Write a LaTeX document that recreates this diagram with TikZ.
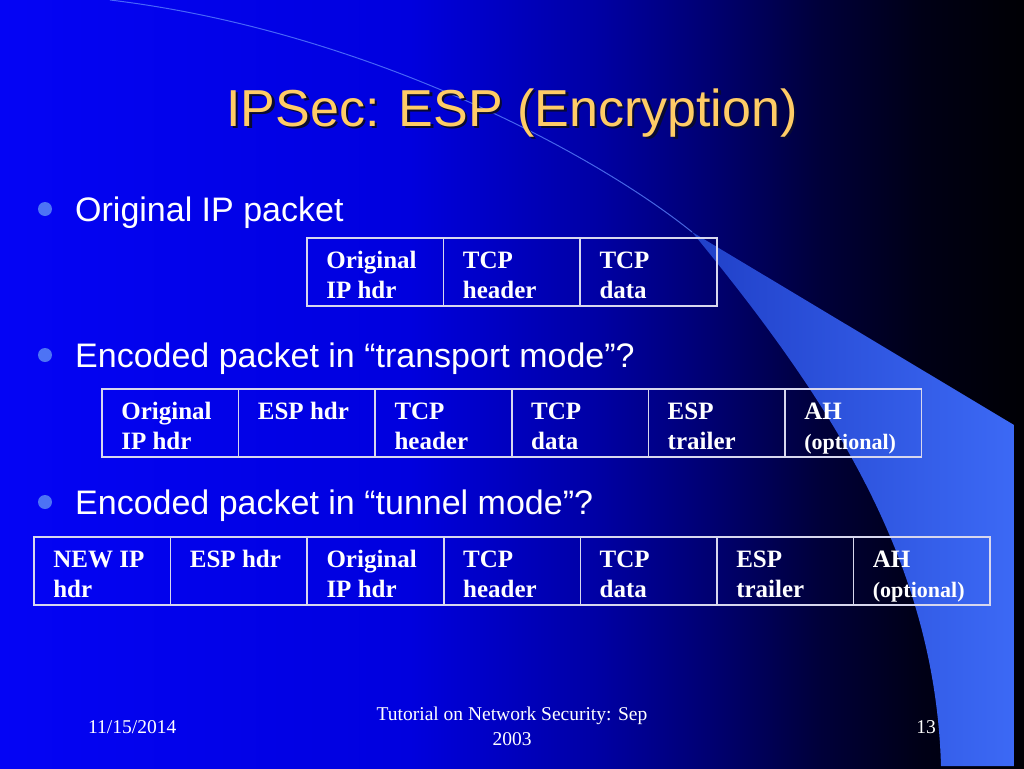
\documentclass[tikz,border=0pt]{standalone}
\usepackage{fontspec}
\setmainfont{Liberation Serif}
\setsansfont{Liberation Sans}
\usepackage{tikz}
\usetikzlibrary{positioning}
\definecolor{bgleft}{RGB}{4,4,245}
\definecolor{bgmid}{RGB}{0,0,222}
\definecolor{bgdeep}{RGB}{0,0,165}
\definecolor{bgdark}{RGB}{0,0,110}
\definecolor{bgnight}{RGB}{0,0,58}
\definecolor{bgfar}{RGB}{0,0,22}
\definecolor{bgend}{RGB}{0,0,4}
\definecolor{swdark}{RGB}{32,64,200}
\definecolor{swlight}{RGB}{60,105,245}
\definecolor{swedge}{RGB}{95,135,255}
\definecolor{titlec}{RGB}{255,204,102}
\definecolor{shadowc}{RGB}{10,10,50}
\definecolor{dotc}{RGB}{77,115,245}
\definecolor{cellline}{RGB}{215,215,238}
% tikz maps the path onto 25bp--75bp of the shading
\pgfdeclarehorizontalshading{slidebg}{100bp}{color(0bp)=(bgleft); color(25bp)=(bgleft); color(45bp)=(bgmid); color(54bp)=(bgdeep); color(60bp)=(bgdark); color(65bp)=(bgnight); color(70bp)=(bgfar); color(75bp)=(bgend); color(100bp)=(bgend)}
\newcommand{\pkt}[2]{\parbox[c][68pt][t]{98pt}{\raggedright\rule{0pt}{30pt}#1\\#2}}

\begin{document}
\begin{tikzpicture}[
    x=1pt, y=-1pt,
    node distance=0pt,
    cell/.style={draw=cellline, line width=1.5pt, outer sep=0pt, inner sep=0pt, minimum width=136.6pt, minimum height=68pt, text=white, font=\bfseries\fontsize{25}{30}\selectfont},
    titletext/.style={inner sep=0pt, text=titlec, font=\sffamily\fontsize{52}{60}\selectfont},
    bullettext/.style={inner sep=0pt, text=white, font=\sffamily\fontsize{34}{40}\selectfont},
    dot/.style={circle, fill=dotc, minimum size=14pt, inner sep=0pt},
    foot/.style={inner sep=0pt, text=white, font=\fontsize{19.5}{25}\selectfont},
    swline/.style={draw=swedge, line width=1pt, opacity=0.75}
  ]
    % slide background
    \useasboundingbox (0,0) rectangle (1024,768);
    \shade[shading=slidebg] (0,0) rectangle (1024,768);
    \draw[swline] (110,0) .. controls (360,30) and (590,150) .. (692,232);
    \shade[left color=swdark, right color=swlight] (692,232) -- (1014,425) -- (1014,766) -- (941,766)
      .. controls (935,560) and (830,400) .. (692,232) -- cycle;

    % title
    \node[titletext, text=shadowc, anchor=base] (titleshadow) at (514.5,128.5) {IPSec: ESP (Encryption)};
    \node[titletext, anchor=base] (title) at (512,126) {IPSec: ESP (Encryption)};

    % bullets
    \node[dot] (d1) at (45,209) {};
    \node[bullettext, anchor=base west] (b1) at (75,221) {Original IP packet};
    \node[dot] (d2) at (45,355) {};
    \node[bullettext, anchor=base west] (b2) at (75,367) {Encoded packet in “transport mode”?};
    \node[dot] (d3) at (45,502) {};
    \node[bullettext, anchor=base west] (b3) at (75,514) {Encoded packet in “tunnel mode”?};

    % original packet
    \node[cell, anchor=north west] (oip) at (307,238) {\pkt{Original}{IP hdr}};
    \node[cell, right=of oip] (otcph) {\pkt{TCP}{header}};
    \node[cell, right=of otcph] (otcpd) {\pkt{TCP}{data}};

    % transport mode
    \node[cell, anchor=north west] (tip) at (102,389) {\pkt{Original}{IP hdr}};
    \node[cell, right=of tip] (tesp) {\pkt{ESP hdr}{\mbox{}}};
    \node[cell, right=of tesp] (ttcph) {\pkt{TCP}{header}};
    \node[cell, right=of ttcph] (ttcpd) {\pkt{TCP}{data}};
    \node[cell, right=of ttcpd] (ttrl) {\pkt{ESP}{trailer}};
    \node[cell, right=of ttrl] (tah) {\pkt{AH}{\fontsize{22}{30}\selectfont(optional)}};

    % tunnel mode
    \node[cell, anchor=north west] (unew) at (34,537) {\pkt{NEW IP}{hdr}};
    \node[cell, right=of unew] (uesp) {\pkt{ESP hdr}{\mbox{}}};
    \node[cell, right=of uesp] (uip) {\pkt{Original}{IP hdr}};
    \node[cell, right=of uip] (utcph) {\pkt{TCP}{header}};
    \node[cell, right=of utcph] (utcpd) {\pkt{TCP}{data}};
    \node[cell, right=of utcpd] (utrl) {\pkt{ESP}{trailer}};
    \node[cell, right=of utrl] (uah) {\pkt{AH}{\fontsize{22}{30}\selectfont(optional)}};

    % footer
    \node[foot, anchor=base west] (date) at (88,733) {11/15/2014};
    \node[foot, align=center] (tutor) at (512,726) {Tutorial on Network Security: Sep\\2003};
    \node[foot, anchor=base east] (page) at (936,733) {13};
\end{tikzpicture}
\end{document}
